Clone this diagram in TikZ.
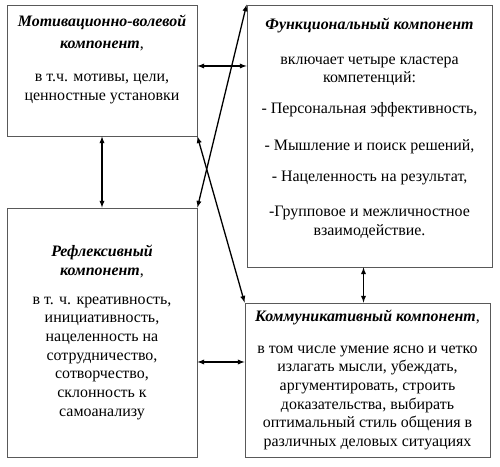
\documentclass[tikz,border=0pt]{standalone}
\usepackage{fontspec}
\setmainfont{Liberation Serif}
\newcommand{\comptitle}[1]{\textbf{\textit{#1}}}

\begin{document}
\begin{tikzpicture}[x=1bp,y=1bp,>=latex,box/.style={draw=black!65,line width=0.8bp,align=center,inner sep=0pt,font=\fontsize{16}{18.7}\selectfont},link/.style={<->,line width=1.3bp}]
  \useasboundingbox (0,0) rectangle (500,467);
  \node[box,minimum width=190bp,minimum height=131bp] (motiv) at (102,396.5) {\comptitle{Мотивационно-волевой}\\[3bp]\comptitle{компонент},\\[14bp]в т.ч. мотивы, цели,\\[1bp]ценностные установки\\[6bp]~};
  \node[box,minimum width=245bp,minimum height=262bp] (func) at (369.5,331) {\comptitle{Функциональный компонент}\\[16bp]включает четыре кластера\\компетенций:\\[12bp]- Персональная эффективность,\\[18bp]- Мышление и поиск решений,\\[13bp]- Нацеленность на результат,\\[16bp]-Групповое и межличностное\\взаимодействие.\\~};
  \node[box,minimum width=190bp,minimum height=249bp] (refl) at (102,134.5) {\comptitle{Рефлексивный}\\\comptitle{компонент},\\[10bp]в т. ч. креативность,\\инициативность,\\нацеленность на\\сотрудничество,\\сотворчество,\\склонность к\\самоанализу};
  \node[box,minimum width=245bp,minimum height=154bp] (komm) at (367.5,87) {\comptitle{Коммуникативный компонент},\\[13bp]в том числе умение ясно и четко\\излагать мысли, убеждать,\\аргументировать, строить\\доказательства, выбирать\\оптимальный стиль общения в\\различных деловых ситуациях};
  \draw[link] ([yshift=4.5bp]motiv.east) -- ([yshift=4.5bp]motiv.east -| func.west);
  \draw[link] (motiv.south) -- (refl.north);
  \draw[link] (refl.north east) -- (func.north west);
  \draw[link] (motiv.south east) -- (komm.north west);
  \draw[link] ([xshift=-6bp]func.south) -- ([xshift=-6bp]func.south |- komm.north);
  \draw[link] ([yshift=18bp]komm.west -| refl.east) -- ([yshift=18bp]komm.west);
\end{tikzpicture}
\end{document}
